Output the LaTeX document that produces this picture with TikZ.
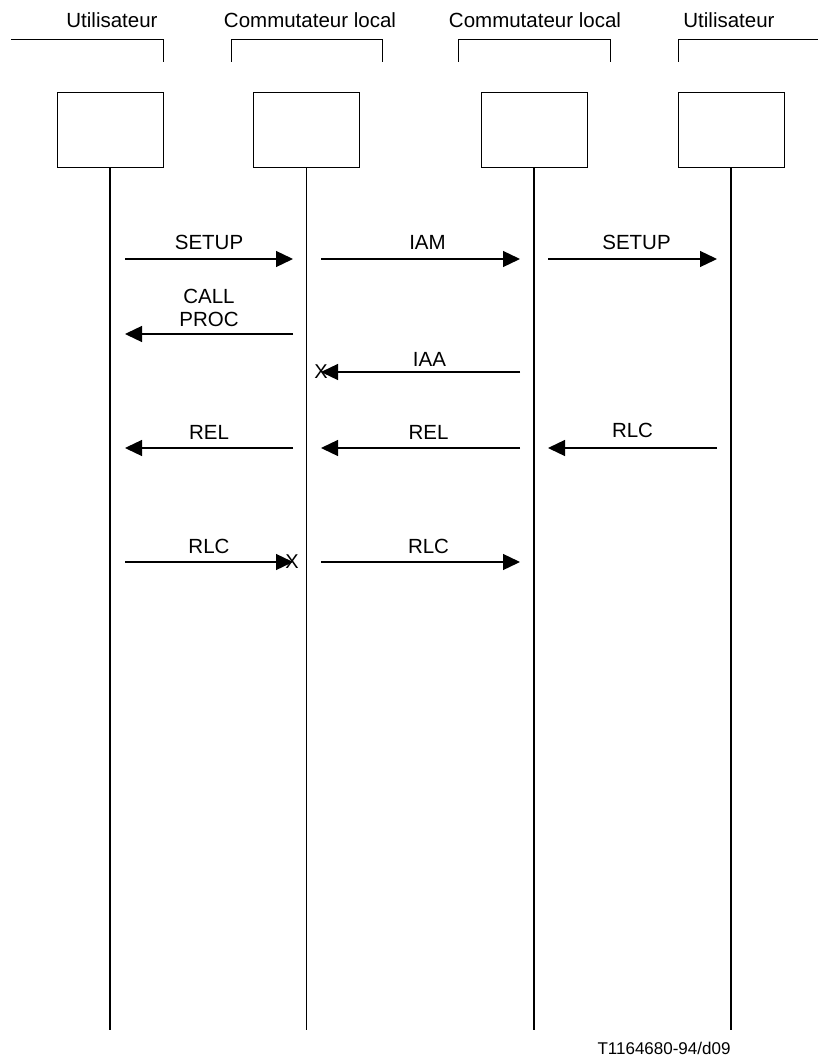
\documentclass[tikz,border=0pt]{standalone}
\usepackage{fontspec}
\setmainfont{Liberation Sans}
\usetikzlibrary{arrows.meta,positioning}

\begin{document}
\begin{tikzpicture}[
    x=1pt, y=-1pt,
    font=\fontsize{20.5}{23}\selectfont,
    entity/.style={rectangle, draw, line width=0.8pt, minimum width=106pt, minimum height=75pt, inner sep=0pt},
    head/.style={inner sep=0pt},
    life/.style={line width=1.6pt},
    bracket/.style={line width=0.8pt},
    msg/.style={-{Triangle[length=17pt,width=16pt]}, line width=1.3pt},
    tag/.style={inner sep=0pt, align=center},
    cut/.style={inner sep=0pt, font=\fontsize{20}{20}\selectfont}
]
\useasboundingbox (0,0) rectangle (818,1059);

% Headers
\node[head] (hu1) at (112,20) {Utilisateur};
\node[head] (hc1) at (310,20) {Commutateur local};
\node[head] (hc2) at (535,20) {Commutateur local};
\node[head] (hu2) at (729,20) {Utilisateur};

\draw[bracket] (11,39.5) -| (163,62);
\draw[bracket] (231,62) |- (382,39.5) -- (382,62);
\draw[bracket] (458,62) |- (610,39.5) -- (610,62);
\draw[bracket] (678,62) |- (818,39.5);

% Entities and lifelines
\node[entity] (u1) at (110,129.5) {};
\node[entity] (c1) at (306.5,129.5) {};
\node[entity] (c2) at (534,129.5) {};
\node[entity] (u2) at (731,129.5) {};

\coordinate (u1e) at (110,1030);
\coordinate (c1e) at (306.5,1030);
\coordinate (c2e) at (534,1030);
\coordinate (u2e) at (731,1030);

\draw[life] (u1) -- (u1e);
\draw[life] (c1) -- (c1e);
\draw[life] (c2) -- (c2e);
\draw[life] (u2) -- (u2e);

% Message end points
\foreach \r/\y in {s/259, p/334, a/372, r/448, c/562} {
    \coordinate (\r1) at (125,\y);
    \coordinate (\r2) at (293,\y);
    \coordinate (\r3) at (321,\y);
    \coordinate (\r4) at (520,\y);
    \coordinate (\r5) at (548,\y);
    \coordinate (\r6) at (717,\y);
}

% Call set-up
\draw[msg] (s1) -- node[tag, yshift=17pt] {SETUP} (s2);
\draw[msg] (s3) -- node[tag, yshift=17pt, xshift=7pt] {IAM} (s4);
\draw[msg] (s5) -- node[tag, yshift=17pt, xshift=4pt] {SETUP} (s6);
\draw[msg] (p2) -- node[tag, yshift=26pt] {CALL\\PROC} (p1);
\draw[msg] (a4) -- node[tag, yshift=13pt, xshift=9pt] {IAA} (a3);
\node[cut] (xa) at (a3) {X};

% Release
\draw[msg] (r2) -- node[tag, yshift=16pt] {REL} (r1);
\draw[msg] (r4) -- node[tag, yshift=16pt, xshift=8pt] {REL} (r3);
\draw[msg] (r6) -- node[tag, yshift=18pt] {RLC} (r5);
\draw[msg] (c1) -- node[tag, yshift=16pt] {RLC} (c2);
\node[cut] (xc) at ([xshift=-1pt]c2) {X};
\draw[msg] (c3) -- node[tag, yshift=16pt, xshift=8pt] {RLC} (c4);

% Figure reference
\node[tag, font=\fontsize{17}{20}\selectfont] (ref) at (664,1048) {T1164680-94/d09};

\end{tikzpicture}
\end{document}
